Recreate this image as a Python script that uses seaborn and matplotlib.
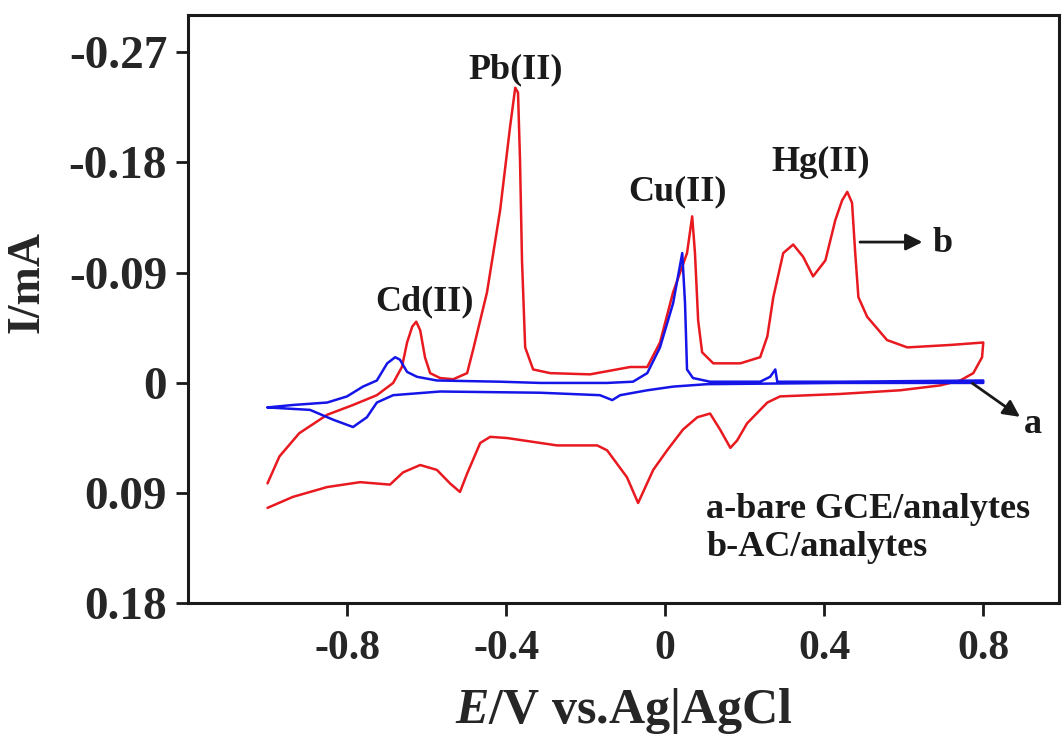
import numpy as np
import pandas as pd
import matplotlib
matplotlib.use("Agg")
import matplotlib.pyplot as plt
import seaborn as sns

# curve b (AC/analytes), anodic sweep -1.0 -> 0.8 V
ac_fwd_E = [-1.00, -0.97, -0.92, -0.85, -0.785, -0.725, -0.684, -0.662, -0.649, -0.636,
            -0.626, -0.616, -0.604, -0.591, -0.566, -0.533, -0.498, -0.483, -0.448, -0.415,
            -0.390, -0.377, -0.370, -0.365, -0.360, -0.352, -0.332, -0.289, -0.189, -0.088,
            -0.045, -0.013, 0.020, 0.055, 0.068, 0.075, 0.083, 0.093, 0.121, 0.189,
            0.239, 0.257, 0.272, 0.297, 0.322, 0.347, 0.372, 0.403, 0.428, 0.445,
            0.458, 0.470, 0.478, 0.486, 0.508, 0.558, 0.609, 0.717, 0.800]
ac_fwd_I = [0.082, 0.060, 0.041, 0.026, 0.018, 0.010, 0.000, -0.013, -0.033, -0.046,
            -0.050, -0.043, -0.021, -0.008, -0.004, -0.003, -0.008, -0.027, -0.074, -0.141,
            -0.209, -0.241, -0.237, -0.182, -0.100, -0.029, -0.011, -0.008, -0.007, -0.013,
            -0.013, -0.033, -0.074, -0.106, -0.136, -0.106, -0.051, -0.025, -0.016, -0.016,
            -0.021, -0.038, -0.070, -0.106, -0.113, -0.103, -0.087, -0.100, -0.133, -0.149,
            -0.156, -0.147, -0.106, -0.070, -0.054, -0.035, -0.029, -0.031, -0.033]
# curve b, cathodic sweep 0.8 -> -1.0 V
ac_rev_E = [0.797, 0.775, 0.742, 0.692, 0.591, 0.440, 0.289, 0.257, 0.206, 0.181,
            0.164, 0.138, 0.113, 0.081, 0.045, 0.005, -0.030, -0.068, -0.096, -0.146,
            -0.171, -0.272, -0.397, -0.440, -0.465, -0.498, -0.516, -0.541, -0.574, -0.616,
            -0.659, -0.692, -0.767, -0.850, -0.936, -1.00]
ac_rev_I = [-0.021, -0.008, -0.002, 0.002, 0.006, 0.009, 0.011, 0.016, 0.033, 0.047,
            0.053, 0.038, 0.025, 0.028, 0.038, 0.055, 0.071, 0.098, 0.077, 0.055,
            0.051, 0.051, 0.045, 0.044, 0.049, 0.074, 0.089, 0.082, 0.071, 0.067,
            0.073, 0.083, 0.081, 0.085, 0.093, 0.102]

# curve a (bare GCE/analytes), anodic sweep
gce_fwd_E = [-1.00, -0.936, -0.850, -0.800, -0.760, -0.725, -0.699, -0.679, -0.667, -0.649,
             -0.624, -0.574, -0.415, -0.314, -0.146, -0.081, -0.045, -0.013, 0.020, 0.043,
             0.050, 0.055, 0.070, 0.113, 0.239, 0.264, 0.277, 0.282, 0.440, 0.800]
gce_fwd_I = [0.020, 0.018, 0.016, 0.011, 0.003, -0.002, -0.016, -0.021, -0.019, -0.009,
             -0.005, -0.002, -0.001, 0.000, 0.000, -0.001, -0.008, -0.029, -0.065, -0.106,
             -0.065, -0.011, -0.004, -0.001, -0.001, -0.005, -0.011, -0.001, -0.001, -0.002]
# curve a, cathodic sweep
gce_rev_E = [0.800, 0.440, 0.106, 0.020, -0.045, -0.113, -0.133, -0.164, -0.314, -0.566,
             -0.684, -0.725, -0.750, -0.785, -0.835, -0.893, -1.00]
gce_rev_I = [0.000, 0.000, 0.001, 0.003, 0.006, 0.010, 0.014, 0.010, 0.008, 0.007,
             0.010, 0.016, 0.028, 0.036, 0.030, 0.022, 0.020]

x_ticks = [-0.8, -0.4, 0, 0.4, 0.8]
x_labels = ["-0.8", "-0.4", "0", "0.4", "0.8"]
y_ticks = [-0.27, -0.18, -0.09, 0, 0.09, 0.18]
y_labels = ["-0.27", "-0.18", "-0.09", "0", "0.09", "0.18"]

peak_names = ["Cd(II)", "Pb(II)", "Cu(II)", "Hg(II)"]
peak_E = [-0.604, -0.375, 0.030, 0.392]
peak_I = [-0.066, -0.256, -0.156, -0.180]

sns.set_style("ticks")
plt.rcParams["font.family"] = ["Liberation Serif", "DejaVu Serif"]
plt.rcParams["font.weight"] = "bold"
plt.rcParams["mathtext.fontset"] = "custom"
plt.rcParams["mathtext.it"] = "Liberation Serif:italic:bold"
plt.rcParams["mathtext.rm"] = "Liberation Serif:bold"

ac = pd.DataFrame({"E": ac_fwd_E + ac_rev_E, "I": ac_fwd_I + ac_rev_I})
gce = pd.DataFrame({"E": gce_fwd_E + gce_rev_E, "I": gce_fwd_I + gce_rev_I})

fig = plt.figure(figsize=(10.62, 7.35), dpi=100)
ax = fig.add_axes([0.177, 0.179, 0.820, 0.800])

sns.lineplot(data=ac, x="E", y="I", sort=False, estimator=None, color="#e8191f",
             linewidth=1.8, ax=ax)
sns.lineplot(data=gce, x="E", y="I", sort=False, estimator=None, color="#1515e8",
             linewidth=1.8, ax=ax)

ax.set_xlim(-1.2, 0.99)
ax.set_ylim(0.18, -0.30)
ax.set_xticks(x_ticks)
ax.set_xticklabels(x_labels, fontsize=30, fontweight="bold")
ax.set_yticks(y_ticks)
ax.set_yticklabels(y_labels, fontsize=34, fontweight="bold")
ax.tick_params(axis="both", direction="out", length=9, width=2, color="#1a1a1a")
ax.tick_params(axis="x", pad=10)
ax.tick_params(axis="y", pad=6)
for s in ax.spines.values():
    s.set_linewidth(2.2)
    s.set_color("#1a1a1a")

ax.set_xlabel(r"$E$/V vs.Ag|AgCl", fontsize=36, fontweight="bold")
ax.set_ylabel("I/mA", fontsize=33, fontweight="bold")
ax.xaxis.set_label_coords(0.5, -0.140)
ax.yaxis.set_label_coords(-0.160, 0.546)

for name, e, i in zip(peak_names, peak_E, peak_I):
    ax.text(e, i, name, fontsize=26, fontweight="bold", ha="center", va="center",
            color="#1a1a1a")

ax.annotate("", xy=(0.654, -0.115), xytext=(0.483, -0.115),
            arrowprops=dict(arrowstyle="-|>", color="#1a1a1a", lw=2, mutation_scale=25))
ax.text(0.699, -0.114, "b", fontsize=26, fontweight="bold", ha="center", va="center",
        color="#1a1a1a")
ax.annotate("", xy=(0.898, 0.029), xytext=(0.767, -0.001),
            arrowprops=dict(arrowstyle="-|>", color="#1a1a1a", lw=2, mutation_scale=25))
ax.text(0.926, 0.034, "a", fontsize=26, fontweight="bold", ha="center", va="center",
        color="#1a1a1a")

ax.text(0.103, 0.119, "a-bare GCE/analytes\nb-AC/analytes", fontsize=26,
        fontweight="bold", ha="left", va="center", linespacing=1.2, color="#1a1a1a")

fig.savefig("out.png", dpi=100)
